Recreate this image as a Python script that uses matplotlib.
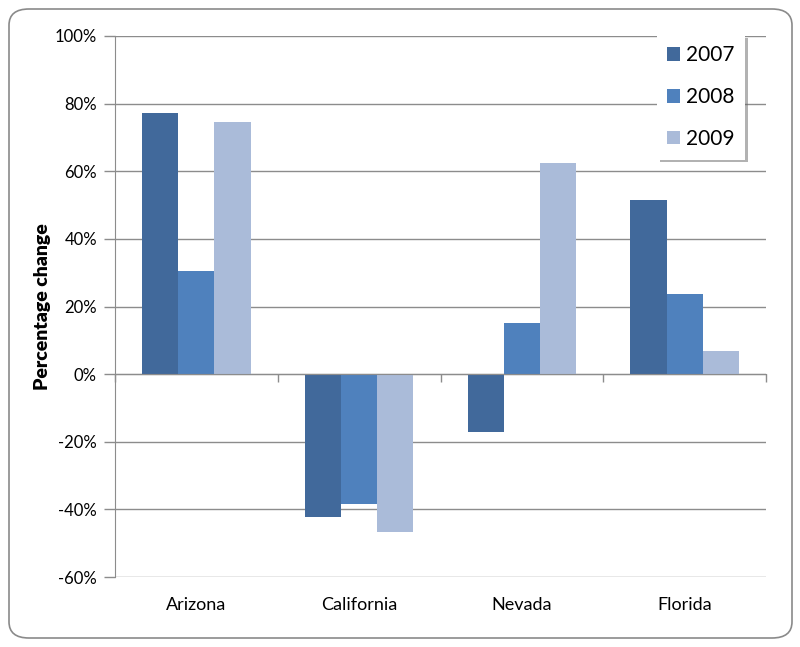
import matplotlib
matplotlib.use("Agg")
import matplotlib.pyplot as plt
import numpy as np
from matplotlib.patches import FancyBboxPatch
from matplotlib.transforms import blended_transform_factory

categories = ["Arizona", "California", "Nevada", "Florida"]
years = ["2007", "2008", "2009"]
v2007 = [77.2, -42.4, -17.2, 51.5]
v2008 = [30.5, -38.3, 15.1, 23.7]
v2009 = [74.7, -46.6, 62.3, 6.8]
series = [v2007, v2008, v2009]
colors = ["#41699B", "#4F81BD", "#AABBD9"]
yticks = [-60, -40, -20, 0, 20, 40, 60, 80, 100]

plt.rcParams['font.family'] = ['Lato', 'DejaVu Sans']
fig = plt.figure(figsize=(8.0, 6.47), dpi=100)

# outer rounded frame
frame = FancyBboxPatch((9/800, 9/647), 783/800, 629/647,
                       boxstyle="round,pad=0,rounding_size=0.025",
                       transform=fig.transFigure, facecolor="white",
                       edgecolor="#8a8a8a", linewidth=1.2, zorder=-5)
fig.patches.append(frame)

ax = fig.add_axes([115/800, 1-577/647, 651/800, 541/647])
ax.set_zorder(1)
ax.set_facecolor("none")
x = np.arange(len(categories))
w = 2/9
for i, (vals, c, lab) in enumerate(zip(series, colors, years)):
    ax.bar(x + (i-1)*w, vals, width=w, color=c, label=lab, zorder=3)

ax.set_xlim(-0.5, len(categories)-0.5)
ax.set_ylim(-60, 100)
ax.set_yticks(yticks)
ax.set_yticklabels([f"{t}%" for t in yticks], fontsize=12)
ax.yaxis.grid(True, color="#8c8c8c", linewidth=1.0, zorder=0)
ax.tick_params(axis='y', length=8, width=1, color="#8c8c8c", pad=5)

for s in ["top", "right"]:
    ax.spines[s].set_visible(False)
ax.spines["left"].set_color("#8c8c8c")
ax.spines["bottom"].set_color("#8c8c8c")
ax.spines["bottom"].set_position(("data", 0))
ax.spines["bottom"].set_zorder(4)
ax.set_xticks(np.arange(len(categories)+1) - 0.5)
ax.set_xticklabels([])
ax.tick_params(axis='x', length=6, width=1, color="#8c8c8c", direction='out')

trans = blended_transform_factory(ax.transData, ax.transAxes)
for xi, c in zip(x, categories):
    ax.text(xi, -0.052, c, transform=trans, ha='center', va='center', fontsize=13)

ax.set_ylabel("Percentage change", fontsize=14, fontweight='heavy', labelpad=3)

leg = ax.legend(loc='upper left', bbox_to_anchor=(657/800, 1-35/647),
                bbox_transform=fig.transFigure, frameon=True, fancybox=False,
                shadow={'color': '#666666', 'alpha': 0.5}, fontsize=15,
                handlelength=0.6, handleheight=0.6, handletextpad=0.3,
                labelspacing=1.05, borderpad=0.5, borderaxespad=0)
leg.get_frame().set_edgecolor("white")
leg.get_frame().set_linewidth(0)

fig.savefig("out.png", dpi=100)
